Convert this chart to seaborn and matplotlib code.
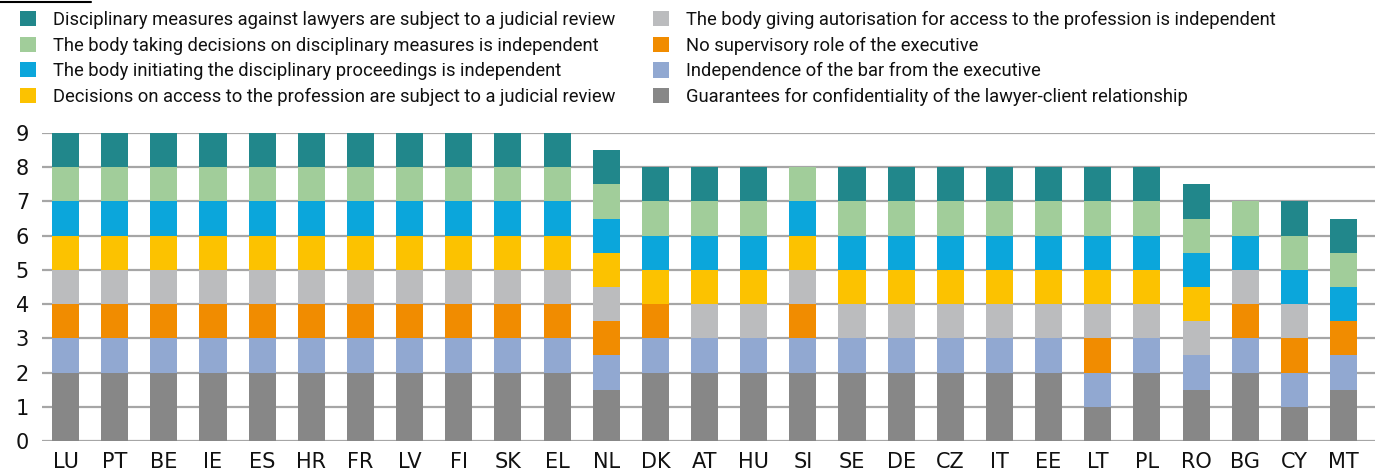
import numpy as np
import pandas as pd
import matplotlib
matplotlib.use("Agg")
import matplotlib.pyplot as plt
from matplotlib.patches import Patch
from matplotlib.lines import Line2D
import seaborn as sns

countries = ["LU", "PT", "BE", "IE", "ES", "HR", "FR", "LV", "FI", "SK", "EL",
             "NL", "DK", "AT", "HU", "SI", "SE", "DE", "CZ", "IT", "EE", "LT",
             "PL", "RO", "BG", "CY", "MT"]

# Stack components, bottom to top
confidentiality = [2, 2, 2, 2, 2, 2, 2, 2, 2, 2, 2, 1.5, 2, 2, 2, 2, 2, 2, 2, 2, 2, 1, 2, 1.5, 2, 1, 1.5]
bar_independence = [1, 1, 1, 1, 1, 1, 1, 1, 1, 1, 1, 1, 1, 1, 1, 1, 1, 1, 1, 1, 1, 1, 1, 1, 1, 1, 1]
no_supervisory = [1, 1, 1, 1, 1, 1, 1, 1, 1, 1, 1, 1, 1, 0, 0, 1, 0, 0, 0, 0, 0, 1, 0, 0, 1, 1, 1]
authorisation_body = [1, 1, 1, 1, 1, 1, 1, 1, 1, 1, 1, 1, 0, 1, 1, 1, 1, 1, 1, 1, 1, 1, 1, 1, 1, 1, 0]
access_review = [1, 1, 1, 1, 1, 1, 1, 1, 1, 1, 1, 1, 1, 1, 1, 1, 1, 1, 1, 1, 1, 1, 1, 1, 0, 0, 0]
initiating_body = [1, 1, 1, 1, 1, 1, 1, 1, 1, 1, 1, 1, 1, 1, 1, 1, 1, 1, 1, 1, 1, 1, 1, 1, 1, 1, 1]
deciding_body = [1, 1, 1, 1, 1, 1, 1, 1, 1, 1, 1, 1, 1, 1, 1, 1, 1, 1, 1, 1, 1, 1, 1, 1, 1, 1, 1]
disciplinary_review = [1, 1, 1, 1, 1, 1, 1, 1, 1, 1, 1, 1, 1, 1, 1, 0, 1, 1, 1, 1, 1, 1, 1, 1, 0, 1, 1]

series_labels = [
    "Guarantees for confidentiality of the lawyer-client relationship",
    "Independence of the bar from the executive",
    "No supervisory role of the executive",
    "The body giving autorisation for access to the profession is independent",
    "Decisions on access to the profession are subject to a judicial review",
    "The body initiating the disciplinary proceedings is independent",
    "The body taking decisions on disciplinary measures is independent",
    "Disciplinary measures against lawyers are subject to a judicial review",
]
series_values = [confidentiality, bar_independence, no_supervisory, authorisation_body,
                 access_review, initiating_body, deciding_body, disciplinary_review]
series_colors = ["#878787", "#91A8D1", "#F18C00", "#BBBCBE",
                 "#FCC200", "#0BA6DB", "#A1CD9A", "#21878B"]

y_ticks = [0, 1, 2, 3, 4, 5, 6, 7, 8, 9]

sns.set_theme(style="white")
plt.rcParams["font.family"] = ["DejaVu Sans"]

df = pd.DataFrame({"country": countries})
cum = np.zeros(len(countries))
for label, vals in zip(series_labels, series_values):
    cum = cum + np.array(vals, dtype=float)
    df[label] = cum

fig = plt.figure(figsize=(13.75, 4.75), dpi=100)
ax = fig.add_axes([0.0305, 0.0716, 0.9695, 0.6484])

# Draw cumulative totals from the top layer down so each lower layer covers the one above
for label, color in reversed(list(zip(series_labels, series_colors))):
    sns.barplot(data=df, x="country", y=label, color=color, width=0.55,
                saturation=1, ax=ax, zorder=3, linewidth=0)

ax.set_ylim(0, 9)
ax.set_xlim(-0.48, 26.64)
ax.set_yticks(y_ticks)
ax.set_yticklabels([str(t) for t in y_ticks], fontsize=15, color="#111111")
ax.tick_params(axis="x", labelsize=15, length=0, pad=8, labelcolor="#111111")
ax.tick_params(axis="y", length=0, pad=14)
ax.set_xlabel("")
ax.set_ylabel("")
for lbl in ax.get_yticklabels():
    lbl.set_horizontalalignment("center")
ax.yaxis.grid(True, color="#A6A6A6", linewidth=1.6, zorder=0)
ax.set_axisbelow(True)
for s in ax.spines.values():
    s.set_visible(False)

handles = [Patch(facecolor=c, edgecolor="none") for c in reversed(series_colors)]
labels = list(reversed(series_labels))
leg = fig.legend(handles, labels, ncol=2, loc="upper left",
                 bbox_to_anchor=(0.0145, 0.977), frameon=False,
                 prop={"family": ["Roboto", "DejaVu Sans"], "size": 13.2},
                 handlelength=0.9, handleheight=0.9, handletextpad=0.9,
                 columnspacing=2.05, labelspacing=0.41,
                 borderaxespad=0, borderpad=0)
for t in leg.get_texts():
    t.set_color("#111111")

fig.add_artist(Line2D([0.0, 0.066], [0.996, 0.996], color="black", linewidth=1.5,
                      transform=fig.transFigure))

fig.savefig("out.png", dpi=100)
